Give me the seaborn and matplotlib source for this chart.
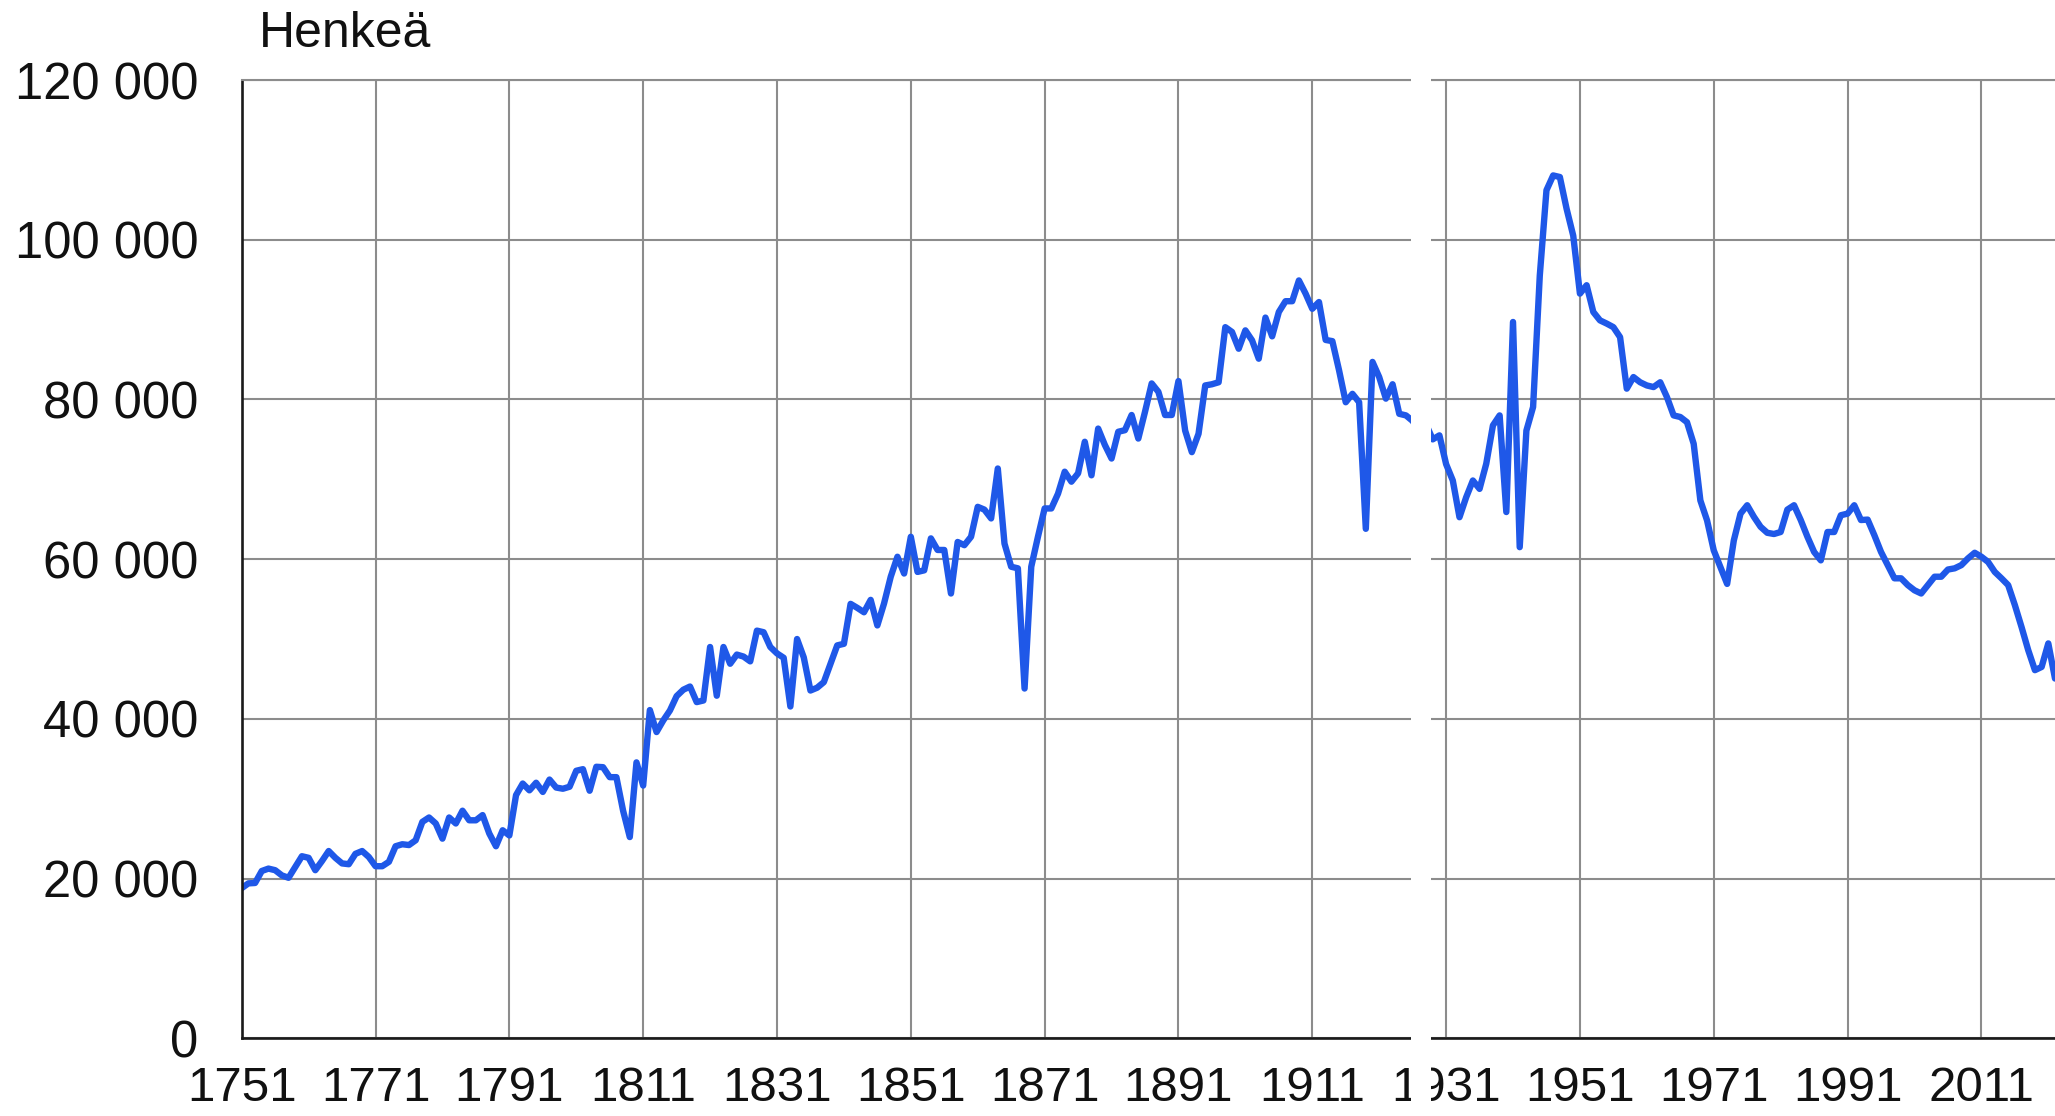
import matplotlib
matplotlib.use("Agg")
import matplotlib.pyplot as plt
from matplotlib.patches import Rectangle
import seaborn as sns
import pandas as pd

# ---- data -------------------------------------------------------------
years = list(range(1751, 2023))
births = [
    18800, 19400, 19450, 20950, 21250, 21050, 20400, 20100, 21450, 22800,  # 1751-1760
    22600, 21050, 22200, 23450, 22600, 21900, 21800, 23100, 23450, 22700,  # 1761-1770
    21550, 21550, 22100, 24050, 24300, 24200, 24800, 27100, 27650, 26900,  # 1771-1780
    25000, 27650, 26900, 28500, 27300, 27300, 27950, 25650, 24050, 26050,  # 1781-1790
    25400, 30450, 31900, 31050, 32000, 30850, 32400, 31400, 31250, 31500,  # 1791-1800
    33500, 33700, 31000, 34000, 33950, 32700, 32700, 28500, 25200, 34550,  # 1801-1810
    31650, 41100, 38350, 39800, 41050, 42850, 43650, 44050, 42100, 42300,  # 1811-1820
    49000, 42900, 49000, 46900, 48050, 47800, 47200, 51050, 50850, 49000,  # 1821-1830
    48200, 47650, 41550, 50000, 47700, 43550, 43900, 44600, 46900, 49200,  # 1831-1840
    49400, 54400, 53900, 53350, 54900, 51700, 54450, 57800, 60300, 58200,  # 1841-1850
    62800, 58400, 58600, 62600, 61150, 61150, 55700, 62150, 61750, 62800,  # 1851-1860
    66550, 66200, 65100, 71350, 61950, 59050, 58850, 43800, 59050, 62800,  # 1861-1870
    66350, 66350, 68200, 70950, 69700, 70750, 74700, 70500, 76350, 74300,  # 1871-1880
    72600, 75950, 76150, 78050, 75100, 78450, 82000, 80950, 78050, 78050,  # 1881-1890
    82300, 76100, 73400, 75700, 81750, 81900, 82150, 89050, 88450, 86350,  # 1891-1900
    88650, 87400, 85100, 90250, 87900, 90950, 92300, 92300, 94900, 93250,  # 1901-1910
    91350, 92200, 87450, 87300, 83650, 79650, 80700, 79650, 63800, 84700,  # 1911-1920
    82800, 80100, 81900, 78200, 78000, 77300, 76000, 76900, 75000, 75500,  # 1921-1930
    71900, 69850, 65250, 67750, 69850, 68800, 71950, 76750, 78000, 65900,  # 1931-1940
    89700, 61500, 76100, 79050, 95500, 106200, 108050, 107850, 103900, 100500,  # 1941-1950
    93250, 94300, 90950, 89900, 89500, 89050, 87800, 81350, 82800, 82150,  # 1951-1960
    81750, 81550, 82150, 80300, 78000, 77800, 77150, 74450, 67350, 64850,  # 1961-1970
    61100, 59000, 56900, 62350, 65700, 66750, 65300, 64050, 63300, 63150,  # 1971-1980
    63400, 66200, 66750, 64900, 62800, 60900, 59850, 63400, 63400, 65500,  # 1981-1990
    65700, 66750, 64900, 64950, 63000, 60900, 59250, 57600, 57600, 56750,  # 1991-2000
    56100, 55700, 56750, 57800, 57800, 58700, 58850, 59250, 60100, 60800,  # 2001-2010
    60300, 59650, 58400, 57600, 56750, 54250, 51500, 48600, 46100, 46500,  # 2011-2020
    49450, 45050,                                                          # 2021-2022
]
x_ticks = [1751, 1771, 1791, 1811, 1831, 1851, 1871, 1891, 1911, 1931, 1951, 1971, 1991, 2011]
x_tick_labels = [str(v) for v in x_ticks]
y_ticks = [0, 20000, 40000, 60000, 80000, 100000, 120000]
y_tick_labels = ["0", "20 000", "40 000", "60 000", "80 000", "100 000", "120 000"]
unit_label = "Henkeä"

df = pd.DataFrame({"Vuosi": years, "Henkeä": births})

# ---- style ------------------------------------------------------------
sns.set_style("white")
plt.rcParams["font.family"] = ["Liberation Sans", "DejaVu Sans"]

W, H = 2055, 1116
fig = plt.figure(figsize=(W / 100, H / 100), dpi=100)
left_px, right_px, top_px, bottom_px = 241.7, 2055, 80, 1038.3
ax = fig.add_axes([left_px / W, 1 - bottom_px / H,
                   (right_px - left_px) / W, (bottom_px - top_px) / H])

sns.lineplot(data=df, x="Vuosi", y="Henkeä", ax=ax, color="#1f58e8")
for ln in ax.lines:
    ln.set_linewidth(4.6)
    ln.set_solid_joinstyle("round")
    ln.set_solid_capstyle("round")

ax.set_xlim(1751, 2022)
ax.set_ylim(0, 120000)
ax.set_xticks(x_ticks)
ax.set_xticklabels(x_tick_labels)
ax.set_yticks(y_ticks)
ax.set_yticklabels(y_tick_labels)
ax.set_xlabel("")
ax.set_ylabel("")

ax.grid(True, color="#8c8c8c", linewidth=1.5)
ax.set_axisbelow(True)
for side in ("left", "bottom"):
    ax.spines[side].set_color("#1a1a1a")
    ax.spines[side].set_linewidth(1.9)
ax.spines["top"].set_color("#8c8c8c")
ax.spines["top"].set_linewidth(1.5)
ax.spines["right"].set_visible(False)

ax.tick_params(axis="both", length=0, colors="#111111")
ax.tick_params(axis="y", labelsize=36.5, pad=31)
ax.tick_params(axis="x", labelsize=35.5, pad=20)

fig.text(259 / W, 1 - 47 / H, unit_label, fontsize=36, ha="left", va="baseline",
         color="#111111")

# white vertical strip present in the reference image
fig.add_artist(Rectangle((1411 / W, 0), 20 / W, 1, transform=fig.transFigure,
                         facecolor="white", edgecolor="none", zorder=10))

fig.savefig("out.png", dpi=100, facecolor="white")
